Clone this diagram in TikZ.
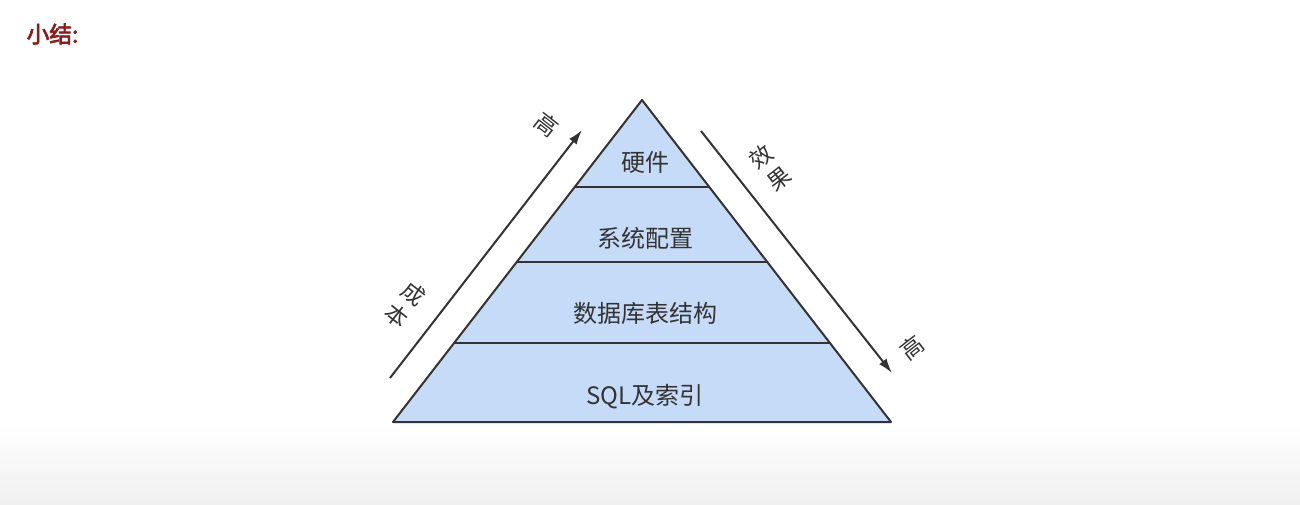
\documentclass[tikz,border=0pt]{standalone}
\usepackage{fontspec}
\newfontfamily\cjk{Noto Sans CJK SC}
\newfontfamily\cjkbold[FakeBold=3]{Noto Sans CJK SC}
\usetikzlibrary{calc,arrows.meta}
\definecolor{layerblue}{HTML}{C6DBF7}
\definecolor{inkgray}{HTML}{333333}
\definecolor{titlered}{HTML}{8A1C1C}
\tikzset{
  layertext/.style = {font=\cjk\fontsize{18}{20}\selectfont, text=inkgray},
  sidetext/.style = {font=\cjk\fontsize{17}{21}\selectfont, text=inkgray, align=center},
  sidearrow/.style = {draw=inkgray, line width=1.5pt, -{Latex[length=11pt,width=7pt]}}
}
\begin{document}
\begin{tikzpicture}[x=0.75pt, y=0.75pt]
\useasboundingbox (0,0) rectangle (1300,504);
\fill[white] (0,0) rectangle (1300,504);
\shade[top color=white, bottom color=black!6] (0,0) rectangle (1300,80);
\node[font=\cjkbold\fontsize{17}{19}\selectfont, text=titlered, anchor=west] (title) at (22,470) {小结:};
% pyramid
\coordinate (top) at (642,404);
\coordinate (bl) at (393,82);
\coordinate (br) at (891,82);
\filldraw[fill=layerblue, draw=inkgray, line width=1.5pt, line join=round] (top) -- (bl) -- (br) -- cycle;
\foreach \t in {0.27,0.503,0.755}
  \draw[inkgray, line width=1.5pt] ($(top)!\t!(bl)$) -- ($(top)!\t!(br)$);
\node[layertext] (hw) at (645,342) {硬件};
\node[layertext] (cfg) at (645,266) {系统配置};
\node[layertext] (db) at (645,191) {数据库表结构};
\node[layertext] (sql) at (645,107) {SQL及索引};
% cost and effect
\coordinate (costlow) at (390,126);
\coordinate (costhigh) at (582,374);
\coordinate (effstart) at (701,373);
\coordinate (effend) at (892,131);
\draw[sidearrow] (costlow) -- (costhigh);
\draw[sidearrow] (effstart) -- (effend);
\node[sidetext, rotate=-38] (costhi) at (547,379) {高};
\node[sidetext, rotate=-38] (cost) at (405,199) {成\\本};
\node[sidetext, rotate=38] (eff) at (770,336) {效\\果};
\node[sidetext, rotate=38] (effhi) at (912,156) {高};
\end{tikzpicture}
\end{document}
